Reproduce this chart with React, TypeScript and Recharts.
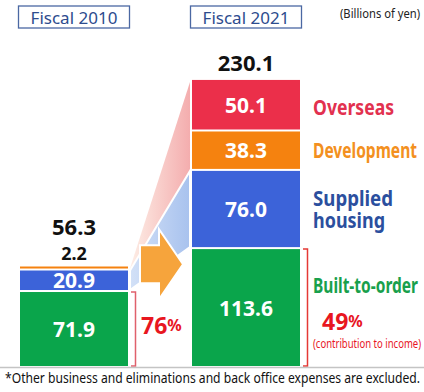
import React from 'react';
import { BarChart, Bar, XAxis, YAxis, LabelList } from 'recharts';

// ---------- data ----------
const periods = ['Fiscal 2010', 'Fiscal 2021'];
const builtToOrder = [71.9, 113.6];
const suppliedHousing = [20.9, 76.0];
const development = [2.2, 38.3];
const overseas = [0, 50.1];
const totals = ['56.3', '230.1'];
const contribution = ['76', '49'];
const seriesNames = ['Built-to-order', 'Supplied housing', 'Development', 'Overseas'];
const contributionNote = '(contribution to income)';
const unitLabel = '(Billions of yen)';
const footnote = '*Other business and eliminations and back office expenses are excluded.';

const data = periods.map((p, i) => ({
  period: p,
  builtToOrder: builtToOrder[i],
  supplied: suppliedHousing[i],
  development: development[i],
  overseas: overseas[i],
}));

// ---------- styles ----------
const FONT = "'Noto Sans', 'Open Sans', sans-serif";
const FILL = { built: '#0aa54b', supplied: '#3c63d9', development: '#f5820f', overseas: '#eb2f4a' };
const TXT = { built: '#18a04c', supplied: '#2b4f9e', development: '#f39020', overseas: '#e2314f' };
const RED = '#e8161f';
const SIDE_LEN: Record<string, number> = { Overseas: 81, Development: 104, Supplied: 80, housing: 72, 'Built-to-order': 105 };

type Geo = { x: number; y: number; width: number; height: number };
const geo: Record<string, Geo> = {};

const num = (v: any) => (typeof v === 'number' ? v : parseFloat(v));

const vb = (p: any): Geo => {
  const v = p.viewBox && p.viewBox.width !== undefined ? p.viewBox : p;
  return { x: num(v.x), y: num(v.y), width: num(v.width), height: num(v.height) };
};

// condensed text: horizontally scaled so that it spans `len` pixels
const cText = (
  x: number, y: number, s: React.ReactNode, len: number, size: number, fill: string,
  opts: { weight?: number; sx?: number; baseline?: string } = {}
) => {
  const sx = opts.sx ?? 0.8;
  return (
    <g transform={`translate(${x},${y}) scale(${sx},1)`}>
      <text x={0} y={0} fontSize={size} fontWeight={opts.weight ?? 400} fill={fill}
        dominantBaseline={opts.baseline ?? 'auto'} textLength={len / sx} lengthAdjust="spacingAndGlyphs"
        style={{ fontFamily: FONT }}>{s}</text>
    </g>
  );
};

const valueText = (cx: number, cy: number, v: number, fill = '#fff', size = 21) => (
  <text x={cx} y={cy} textAnchor="middle" dominantBaseline="central" fontSize={size} fontWeight={700}
    fill={fill} style={{ fontFamily: FONT }}>{v.toFixed(1)}</text>
);

const sideText = (x: number, y: number, s: string, fill: string, size = 21) =>
  cText(x, y, s, SIDE_LEN[s], size, fill, { weight: 700, sx: 0.78, baseline: 'central' });

const Connectors = () => {
  const o0 = geo['development-0'], b0 = geo['supplied-0'];
  const r1 = geo['overseas-1'], o1 = geo['development-1'], b1 = geo['supplied-1'];
  if (!o0 || !b0 || !r1 || !o1 || !b1) return null;
  const L = o0.x + o0.width;
  const R = r1.x;
  const pink = [
    [L + 2, o0.y], [R - 2, r1.y + 2], [R - 2, o1.y + o1.height], [L + 2, o0.y + o0.height],
  ].map((p) => p.join(',')).join(' ');
  const blue = [
    [L + 2, b0.y], [R - 2, b1.y], [R - 2, b1.y + b1.height - 2], [L + 2, b0.y + b0.height - 2],
  ].map((p) => p.join(',')).join(' ');
  const cy = o0.y - 4;
  const arrow = [
    [L + 12, cy - 19], [L + 31, cy - 19], [L + 31, cy - 35], [L + 55, cy],
    [L + 31, cy + 35], [L + 31, cy + 19], [L + 12, cy + 19],
  ].map((p) => p.join(',')).join(' ');
  return (
    <g>
      <defs>
        <linearGradient id="pinkGrad" x1="0" y1="0" x2="1" y2="0">
          <stop offset="0%" stopColor="#fdeee6" />
          <stop offset="100%" stopColor="#f4adae" />
        </linearGradient>
        <linearGradient id="blueGrad" x1="0" y1="0" x2="1" y2="0">
          <stop offset="0%" stopColor="#d3e1f7" />
          <stop offset="100%" stopColor="#a8c2ee" />
        </linearGradient>
      </defs>
      <polygon points={pink} fill="url(#pinkGrad)" />
      <polygon points={blue} fill="url(#blueGrad)" stroke="#fff" strokeWidth={2} />
      <polygon points={arrow} fill="#f6a43c" stroke="#fff" strokeWidth={2} />
    </g>
  );
};

const makeShape = (key: string, fill: string, bottom = false) => (props: any) => {
  const { x, y, width, height } = props;
  const index = props.index !== undefined ? props.index : periods.indexOf(props.payload?.period);
  geo[`${key}-${index}`] = { x, y, width, height };
  const extra = key === 'overseas' && index === 1 ? <Connectors /> : null;
  if (!height || height <= 0) return <g>{extra}</g>;
  let ry = y;
  let rh = height;
  if (!bottom) {
    rh = Math.max(height - 2, 2);
    ry = y + height - 2 - rh;
  }
  return (
    <g>
      {extra}
      <rect x={x} y={ry} width={width} height={rh} fill={fill} />
    </g>
  );
};

const pctText = (x: number, y: number, v: string) => (
  <text x={x} y={y} dominantBaseline="central" fontWeight={700} fill={RED} style={{ fontFamily: FONT }}>
    <tspan fontSize={23}>{v}</tspan><tspan fontSize={16}>%</tspan>
  </text>
);

const builtLabel = (p: any) => {
  const { x, y, width, height } = vb(p);
  const i = p.index;
  const v = builtToOrder[i];
  const cx = x + width / 2;
  const mid = y + height / 2;
  const bx = x + width + 7.5;
  const stroke = i === 0 ? '#e0606c' : '#e53935';
  const bracket = `M${x + width + 3},${y} L${bx},${y} L${bx},${y + height} L${x + width + 3},${y + height}`;
  return (
    <g>
      {valueText(cx, mid, v)}
      <path d={bracket} fill="none" stroke={stroke} strokeWidth={1.5} />
      {i === 0 ? (
        pctText(x + width + 13, mid - 4, contribution[0])
      ) : (
        <g>
          {sideText(x + width + 13, mid - 22, seriesNames[0], TXT.built)}
          {pctText(x + width + 22, mid + 13, contribution[1])}
          {cText(x + width + 13, mid + 36, contributionNote, 108, 12, RED, { sx: 0.76, baseline: 'central' })}
        </g>
      )}
    </g>
  );
};

const suppliedLabel = (p: any) => {
  const { x, y, width, height } = vb(p);
  const i = p.index;
  const mid = y + (height - 2) / 2;
  const [w1, w2] = seriesNames[1].split(' ');
  const sx = 0.78;
  return (
    <g>
      {valueText(x + width / 2, mid, suppliedHousing[i])}
      {i === 1 ? (
        <g transform={`translate(${x + width + 13},${mid}) scale(${sx},1)`}>
          <text x={0} y={0} fontSize={21} fontWeight={700} fill={TXT.supplied} style={{ fontFamily: FONT }}>
            <tspan x={0} y={-11} dominantBaseline="central" textLength={SIDE_LEN[w1] / sx} lengthAdjust="spacingAndGlyphs">{w1}</tspan>
            <tspan x={0} y={11} dominantBaseline="central" textLength={SIDE_LEN[w2] / sx} lengthAdjust="spacingAndGlyphs">{w2}</tspan>
          </text>
        </g>
      ) : null}
    </g>
  );
};

const developmentLabel = (p: any) => {
  const { x, y, width, height } = vb(p);
  const i = p.index;
  const cx = x + width / 2;
  if (i === 0) {
    return (
      <g>
        <text x={cx} y={y - 8} textAnchor="middle" fontSize={18} fontWeight={700} fill="#111"
          style={{ fontFamily: FONT }}>{development[0].toFixed(1)}</text>
        <text x={cx} y={y - 33} textAnchor="middle" fontSize={22} fontWeight={700} fill="#111"
          style={{ fontFamily: FONT }}>{totals[0]}</text>
      </g>
    );
  }
  const mid = y + (height - 2) / 2;
  return (
    <g>
      {valueText(cx, mid, development[1])}
      {sideText(x + width + 13, mid, seriesNames[2], TXT.development)}
    </g>
  );
};

const overseasLabel = (p: any) => {
  const { x, y, width, height } = vb(p);
  const i = p.index;
  if (i !== 1) return <g />;
  const cx = x + width / 2;
  const mid = y + (height - 2) / 2;
  return (
    <g>
      {valueText(cx, mid, overseas[1])}
      {sideText(x + width + 13, mid + 2, seriesNames[3], TXT.overseas)}
      <text x={cx} y={y - 9} textAnchor="middle" fontSize={22} fontWeight={700} fill="#111"
        style={{ fontFamily: FONT }}>{totals[1]}</text>
    </g>
  );
};

const PeriodTick = (props: any) => {
  const { x, y, payload } = props;
  return (
    <g>
      <rect x={x - 55.5} y={y - 23} width={111} height={22} fill="#fff" stroke="#4b68a3" strokeWidth={1.3} />
      <text x={x} y={y - 12} textAnchor="middle" dominantBaseline="central" fontSize={17} fill="#2d4c8e"
        style={{ fontFamily: FONT }}>{payload.value}</text>
    </g>
  );
};

export default function App() {
  return (
    <div style={{ position: 'absolute', left: 0, top: 0, width: 424, height: 392, overflow: 'hidden', background: '#fff' }}>
      <div style={{ position: 'absolute', left: -12, top: 0 }}>
        <BarChart width={436} height={392} data={data} margin={{ top: 0, right: 92, bottom: 26, left: 0 }}>
          <XAxis dataKey="period" orientation="top" height={29} tickLine={false} axisLine={false}
            tickSize={0} tickMargin={0} interval={0} tick={<PeriodTick />} />
          <YAxis type="number" domain={[0, 327.5]} hide />
          <Bar dataKey="builtToOrder" stackId="a" barSize={108} isAnimationActive={false}
            shape={makeShape('built', FILL.built, true)}>
            <LabelList dataKey="builtToOrder" content={builtLabel} />
          </Bar>
          <Bar dataKey="supplied" stackId="a" barSize={108} isAnimationActive={false}
            shape={makeShape('supplied', FILL.supplied)}>
            <LabelList dataKey="supplied" content={suppliedLabel} />
          </Bar>
          <Bar dataKey="development" stackId="a" barSize={108} isAnimationActive={false}
            shape={makeShape('development', FILL.development)}>
            <LabelList dataKey="development" content={developmentLabel} />
          </Bar>
          <Bar dataKey="overseas" stackId="a" barSize={108} isAnimationActive={false}
            shape={makeShape('overseas', FILL.overseas)}>
            <LabelList dataKey="overseas" content={overseasLabel} />
          </Bar>
        </BarChart>
      </div>
      <svg width={424} height={392} style={{ position: 'absolute', left: 0, top: 0, pointerEvents: 'none' }}>
        {cText(340, 18, unitLabel, 80, 12, '#222', { sx: 0.82 })}
        <line x1={0} x2={424} y1={367.5} y2={367.5} stroke="#c4c4c4" strokeWidth={1.5} />
        {cText(5, 383, footnote, 415, 14, '#111', { sx: 0.84 })}
      </svg>
    </div>
  );
}
